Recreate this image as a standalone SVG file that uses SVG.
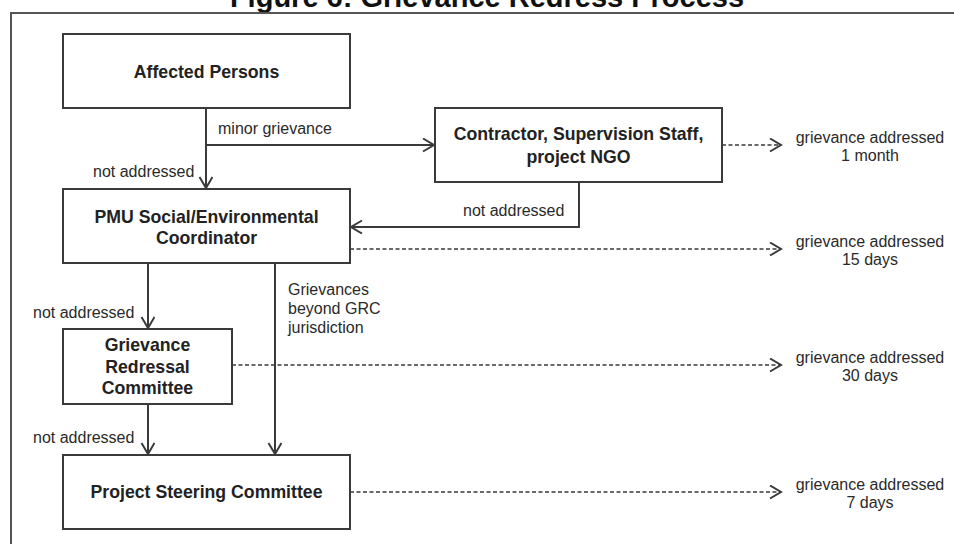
<svg xmlns="http://www.w3.org/2000/svg" width="954" height="544" viewBox="0 0 954 544">
<defs>
<style>
.box{fill:#fff;stroke:#3a3a3a;stroke-width:2}
.t{font-family:"Liberation Sans",Arial,sans-serif;font-weight:bold;font-size:17.7px;fill:#222;text-anchor:middle}
.l{font-family:"Liberation Sans",Arial,sans-serif;font-size:16px;fill:#2a2a2a}
.lc{font-family:"Liberation Sans",Arial,sans-serif;font-size:16px;fill:#2a2a2a;text-anchor:middle}
.c{fill:none;stroke:#3a3a3a;stroke-width:2}
.d{fill:none;stroke:#3a3a3a;stroke-width:1.6;stroke-dasharray:4 2.5}
</style>
<marker id="ah" markerUnits="userSpaceOnUse" markerWidth="14" markerHeight="16" viewBox="0 0 14 16" refX="12" refY="7" orient="auto">
<path d="M1,0.5 L12,7 L1,13.5" fill="none" stroke="#3a3a3a" stroke-width="2"/>
</marker>
</defs>
<rect width="954" height="544" fill="#fff"/>
<text x="487" y="7" style="font-family:'Liberation Sans',Arial,sans-serif;font-weight:bold;font-size:29px;fill:#111;text-anchor:middle">Figure 6: Grievance Redress Process</text>
<path d="M11,544 V13 H954" fill="none" stroke="#555" stroke-width="2"/>

<g id="connectors">
<path class="c" d="M206,108 V188" marker-end="url(#ah)"/>
<path class="c" d="M206,145 H434" marker-end="url(#ah)"/>
<path class="c" d="M579,182 V227 H351" marker-end="url(#ah)"/>
<path class="c" d="M148,263 V328" marker-end="url(#ah)"/>
<path class="c" d="M275,263 V454" marker-end="url(#ah)"/>
<path class="c" d="M148,404 V454" marker-end="url(#ah)"/>
<path class="d" d="M722,145 H781" marker-end="url(#ah)"/>
<path class="d" d="M350,249 H781" marker-end="url(#ah)"/>
<path class="d" d="M232,365 H781" marker-end="url(#ah)"/>
<path class="d" d="M350,492 H781" marker-end="url(#ah)"/>
<text class="l" x="218" y="134">minor grievance</text>
<text class="l" x="93" y="177">not addressed</text>
<text class="l" x="463" y="216">not addressed</text>
<text class="l" x="33" y="318">not addressed</text>
<text class="l" x="33" y="443">not addressed</text>
<text class="l" x="288" y="295">Grievances</text>
<text class="l" x="288" y="314">beyond GRC</text>
<text class="l" x="288" y="333">jurisdiction</text>
</g>

<g id="affected-persons">
<rect class="box" x="63" y="34" width="287" height="74"/>
<text class="t" x="206.5" y="77.5">Affected Persons</text>
</g>
<g id="contractor">
<rect class="box" x="435" y="108" width="287" height="74"/>
<text class="t" x="578.5" y="140">Contractor, Supervision Staff,</text>
<text class="t" x="578.5" y="163">project NGO</text>
</g>
<g id="pmu">
<rect class="box" x="63" y="189" width="287" height="74"/>
<text class="t" x="206.5" y="223">PMU Social/Environmental</text>
<text class="t" x="206.5" y="244">Coordinator</text>
</g>
<g id="grc">
<rect class="box" x="63" y="329" width="169" height="75"/>
<text class="t" x="147.5" y="351">Grievance</text>
<text class="t" x="147.5" y="373">Redressal</text>
<text class="t" x="147.5" y="394">Committee</text>
</g>
<g id="psc">
<rect class="box" x="63" y="455" width="287" height="74"/>
<text class="t" x="206.5" y="498">Project Steering Committee</text>
</g>

<g id="outcome-1">
<text class="lc" x="870" y="143">grievance addressed</text>
<text class="lc" x="870" y="161">1 month</text>
</g>
<g id="outcome-2">
<text class="lc" x="870" y="247">grievance addressed</text>
<text class="lc" x="870" y="265">15 days</text>
</g>
<g id="outcome-3">
<text class="lc" x="870" y="363">grievance addressed</text>
<text class="lc" x="870" y="381">30 days</text>
</g>
<g id="outcome-4">
<text class="lc" x="870" y="490">grievance addressed</text>
<text class="lc" x="870" y="508">7 days</text>
</g>
</svg>
